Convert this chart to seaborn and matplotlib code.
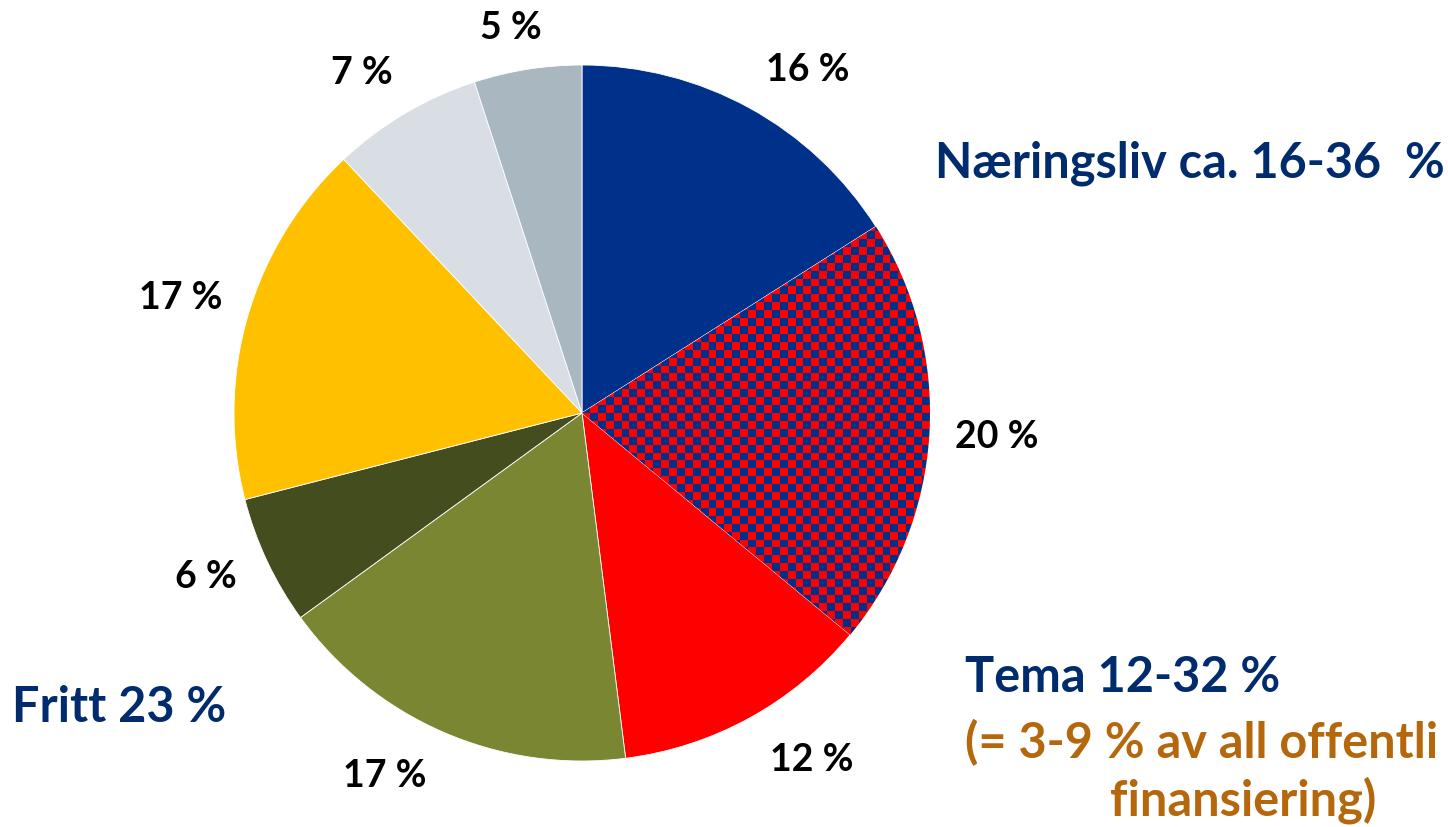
import numpy as np
import matplotlib.pyplot as plt
from matplotlib.colors import ListedColormap
import seaborn as sns

# slice values, clockwise from 12 o'clock
shares = [16, 20, 12, 17, 6, 17, 7, 5]
slice_colors = ["#00318A", "#FF0000", "#FF0000", "#7A8632",
                "#434D1E", "#FFC000", "#D9DEE4", "#A9B7C0"]
checker_slice = 1  # the hatched "Næringsliv / Tema" overlap slice
# percentage label placement: distance (pie radii) and angle nudge (deg)
label_dist = [1.18, 1.195, 1.195, 1.187, 1.18, 1.2, 1.164, 1.124]
label_nudge = [-4.6, 0.3, 4.7, -5.1, -1.6, 0.2, 2.3, 1.5]

navy = "#002C6E"
brown = "#B5670C"
side_labels = [
    ("Næringsliv ca. 16-36  %", 935, 163, navy),
    ("Tema 12-32 %", 965, 678, navy),
    ("(= 3-9 % av all offentli", 965, 743, brown),
    ("finansiering)", 1110, 800, brown),
    ("Fritt 23 %", 12, 708, navy),
]

W, H = 1448, 827
cx, cy, rad = 582, 413, 348

sns.set_theme(style="white")
plt.rcParams["font.family"] = ["Lato", "DejaVu Sans"]

fig = plt.figure(figsize=(W / 100, H / 100), dpi=100)
ax = fig.add_axes([(cx - rad) / W, (H - cy - rad) / H, 2 * rad / W, 2 * rad / H])

wedges, _, autotexts = ax.pie(
    shares,
    colors=slice_colors,
    startangle=90,
    counterclock=False,
    autopct=lambda p: f"{p:.0f} %",
    pctdistance=1.18,
    wedgeprops=dict(edgecolor="white", linewidth=0.6),
    textprops=dict(fontsize=27, fontweight="bold", color="black"),
)

for w, t, d, nud in zip(wedges, autotexts, label_dist, label_nudge):
    a = np.deg2rad((w.theta1 + w.theta2) / 2 + nud)
    t.set_position((d * np.cos(a), d * np.sin(a)))

# checkerboard fill for the overlap slice
n = 88
checker = (np.add.outer(np.arange(n), np.arange(n)) % 2).astype(float)
img = ax.imshow(checker, cmap=ListedColormap(["#FF0000", "#00318A"]),
                extent=(-1, 1, -1, 1), interpolation="nearest", zorder=2)
img.set_clip_path(wedges[checker_slice])

ax.set_xlim(-1, 1)
ax.set_ylim(-1, 1)
ax.set_aspect("equal")
ax.axis("off")

for text, px, py, col in side_labels:
    fig.text(px / W, 1 - py / H, text, ha="left", va="center",
             fontsize=35, fontweight="bold", color=col)

fig.savefig("out.png", dpi=100)
